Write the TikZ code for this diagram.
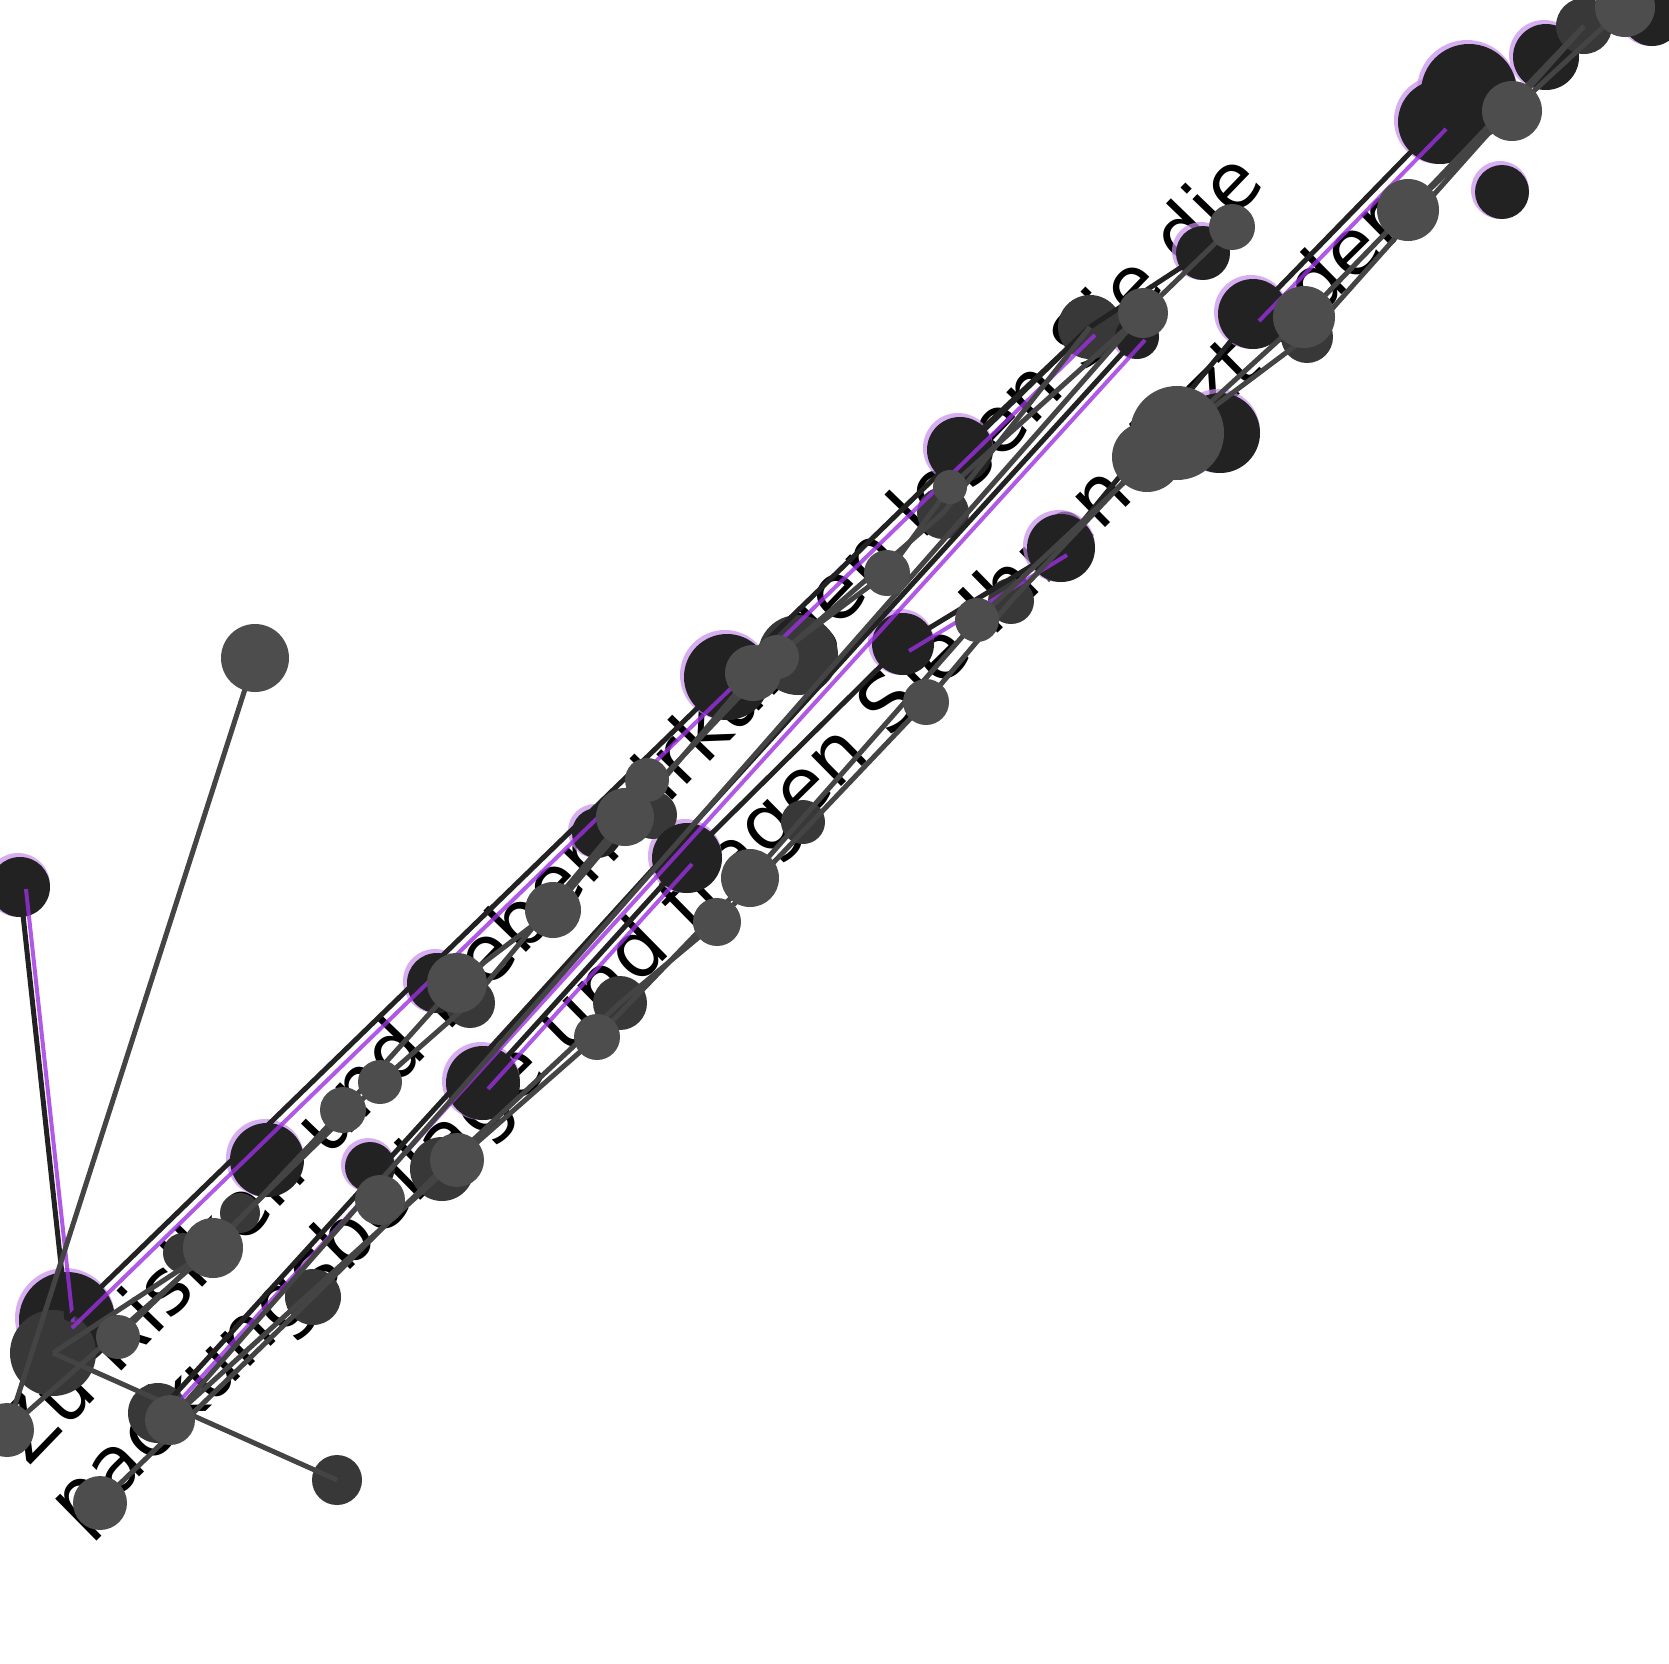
\documentclass[tikz,border=0pt]{standalone}
\usepackage{fontspec}
\setmainfont{DejaVu Sans}
\usetikzlibrary{calc}
\definecolor{dk}{HTML}{222222}
\definecolor{gy}{HTML}{4D4D4D}
\definecolor{md}{HTML}{383838}
\definecolor{lk}{HTML}{444444}
\definecolor{pu}{HTML}{9B30E0}
\pgfdeclarelayer{bgl}
\pgfdeclarelayer{txt}
\pgfdeclarelayer{glow}
\pgfdeclarelayer{darkdots}
\pgfdeclarelayer{edges}
\pgfsetlayers{bgl,txt,glow,darkdots,edges,main}
\newcommand\Ddot[4]{%
  \begin{pgfonlayer}{glow}\fill[pu!55,opacity=0.7] (#2-2,#3-2) circle[radius=#4pt+2pt];\end{pgfonlayer}%
  \begin{pgfonlayer}{darkdots}\node[dot,fill=dk,minimum size=2*#4pt] (#1) at (#2,#3) {};\end{pgfonlayer}}
\newcommand\Mdot[4]{%
  \begin{pgfonlayer}{darkdots}\node[dot,fill=md,minimum size=2*#4pt] (#1) at (#2,#3) {};\end{pgfonlayer}}
\newcommand\Gdot[4]{\node[dot,fill=gy,minimum size=2*#4pt] (#1) at (#2,#3) {};}
\begin{document}
\begin{tikzpicture}[x=1pt,y=-1pt,
  dot/.style={circle,inner sep=0pt,draw=none},
  blk/.style={draw=dk,line width=5pt},
  gl/.style={draw=lk,line width=5pt},
  pul/.style={draw=pu,line width=4pt,opacity=0.8},
  lbl/.style={inner sep=0pt,text=black,font=\fontsize{78}{90}\selectfont}]
\useasboundingbox (0,0) rectangle (1669,1663);
\begin{pgfonlayer}{bgl}\fill[white] (0,0) rectangle (1669,1663);\end{pgfonlayer}
% upper strand
\Ddot{u0}{67}{1320}{48}
\Mdot{u1}{53}{1353}{43}
\Gdot{u2}{118}{1337}{22}
\Mdot{u3}{183}{1253}{20}
\Gdot{u4}{213}{1248}{30}
\Mdot{u5}{240}{1213}{20}
\Ddot{u6}{267}{1160}{37}
\Gdot{u7}{343}{1110}{23}
\Gdot{u8}{380}{1082}{22}
\Ddot{u9}{437}{983}{30}
\Mdot{u10}{470}{1003}{25}
\Gdot{u11}{457}{983}{30}
\Gdot{u12}{553}{910}{28}
\Ddot{u13}{597}{833}{25}
\Mdot{u14}{653}{815}{24}
\Gdot{u15}{625}{817}{29}
\Gdot{u16}{647}{780}{22}
\Ddot{u17}{727}{677}{43}
\Mdot{u18}{798}{655}{40}
\Gdot{u19}{753}{673}{28}
\Gdot{u20}{777}{657}{22}
\Gdot{u21}{887}{573}{23}
\Mdot{u22}{943}{513}{26}
\Ddot{u23}{960}{450}{33}
\Gdot{u24}{950}{487}{17}
\Mdot{u25}{1090}{327}{32}
\Ddot{u26}{1137}{337}{22}
\Gdot{u27}{1143}{313}{25}
\Ddot{u28}{1203}{253}{27}
\Gdot{u29}{1232}{227}{23}
% lower strand
\Gdot{l1}{100}{1503}{27}
\Mdot{l2}{158}{1413}{30}
\Gdot{l3}{170}{1420}{25}
\Mdot{l4}{313}{1297}{28}
\Ddot{l5}{370}{1167}{25}
\Gdot{l6}{380}{1200}{25}
\Ddot{l7}{483}{1083}{37}
\Mdot{l8}{442}{1169}{32}
\Gdot{l9}{457}{1160}{27}
\Mdot{l10}{620}{1003}{27}
\Gdot{l11}{597}{1037}{23}
\Gdot{l12}{717}{922}{24}
\Ddot{l13}{687}{858}{35}
\Gdot{l14}{750}{878}{29}
\Mdot{l15}{803}{822}{22}
\Ddot{l16}{903}{644}{31}
\Gdot{l17}{926}{702}{23}
\Gdot{l18}{977}{620}{22}
\Mdot{l19}{1011}{601}{23}
\Ddot{l20}{1061}{548}{34}
\Gdot{l21}{1147}{457}{35}
\Ddot{l22}{1220}{433}{40}
\Gdot{l23}{1177}{433}{47}
\Ddot{l24}{1253}{314}{35}
\Mdot{l25b}{1307}{337}{26}
\Gdot{l25}{1304}{317}{31}
\Gdot{l26}{1408}{210}{31}
\Ddot{l27}{1440}{122}{42}
\Ddot{l28}{1469}{92}{48}
\Gdot{l29}{1512}{111}{30}
\Ddot{l30}{1502}{192}{27}
\Ddot{l31}{1546}{57}{33}
\Mdot{l32}{1584}{26}{28}
\Gdot{l33}{1625}{7}{30}
\Ddot{l34}{1652}{16}{30}
% outliers
\Ddot{e1}{20}{887}{30}
\Gdot{e2}{255}{658}{34}
\Gdot{e3}{7}{1430}{27}
\Mdot{e4}{337}{1480}{25}
% text
\begin{pgfonlayer}{txt}
\node[lbl,rotate=46,anchor=base west] (t1) at (28,1468) {Zu Risiken und Nebenwirkungen lesen Sie die};
\node[lbl,rotate=44.5,anchor=base west] (t2) at (80,1535) {packungsbeilage und fragen Sie Ihren Arzt oder};
\end{pgfonlayer}
% connectors
\begin{pgfonlayer}{edges}
\draw[pul] ([shift={(5,8)}]u0.center) -- ([shift={(5,8)}]u25.center);
\draw[pul] ([shift={(8,3)}]l2.center) -- ([shift={(8,3)}]u26.center);
\draw[pul] ([shift={(6,7)}]l16.center) -- ([shift={(6,7)}]l20.center);
\draw[pul] ([shift={(6,7)}]l24.center) -- ([shift={(6,7)}]l27.center);
\draw[pul] ([shift={(5,6)}]l7.center) -- ([shift={(5,6)}]l13.center);
\draw[pul] ([shift={(6,2)}]e1.center) -- ([shift={(6,2)}]u0.center);
\draw[blk] (e1.center) -- (u0.center);
\draw[blk] (u0.center) -- (u25.center);
\draw[blk] (l2.center) -- (u26.center);
\draw[blk] (l7.center) -- (l13.center);
\draw[blk] (l13.center) -- (l16.center);
\draw[blk] (l16.center) -- (l20.center);
\draw[blk] (l20.center) -- (l24.center);
\draw[blk] (l24.center) -- (l27.center);
\draw[blk] (u23.center) -- (u25.center);
\draw[blk] (u25.center) -- (u28.center);
\draw[gl] (e2.center) -- (e3.center);
\draw[gl] (u1.center) -- (e4.center);
\draw[gl] (e3.center) -- (u4.center);
\draw[gl] (u1.center) -- (u4.center) -- (u7.center) -- (u11.center) -- (u12.center) -- (u19.center) -- (u21.center) -- (u24.center) -- (u27.center) -- (u29.center);
\draw[gl] (u2.center) -- (u8.center) -- (u10.center) -- (u15.center) -- (u20.center) -- (u22.center) -- (u25.center);
\draw[gl] (l3.center) -- (u27.center);
\draw[gl] (l1.center) -- (l4.center) -- (l8.center) -- (l10.center) -- (l12.center) -- (l17.center) -- (l19.center) -- (l21.center);
\draw[gl] (l3.center) -- (l9.center) -- (l11.center) -- (l14.center) -- (l18.center) -- (l23.center);
\draw[gl] (l23.center) -- (l25.center) -- (l26.center) -- (l29.center) -- (l33.center);
\draw[gl] (l21.center) -- (l25b.center) -- (l32.center);
\draw[gl] (l26.center) -- (l32.center);
\end{pgfonlayer}
\end{tikzpicture}
\end{document}
